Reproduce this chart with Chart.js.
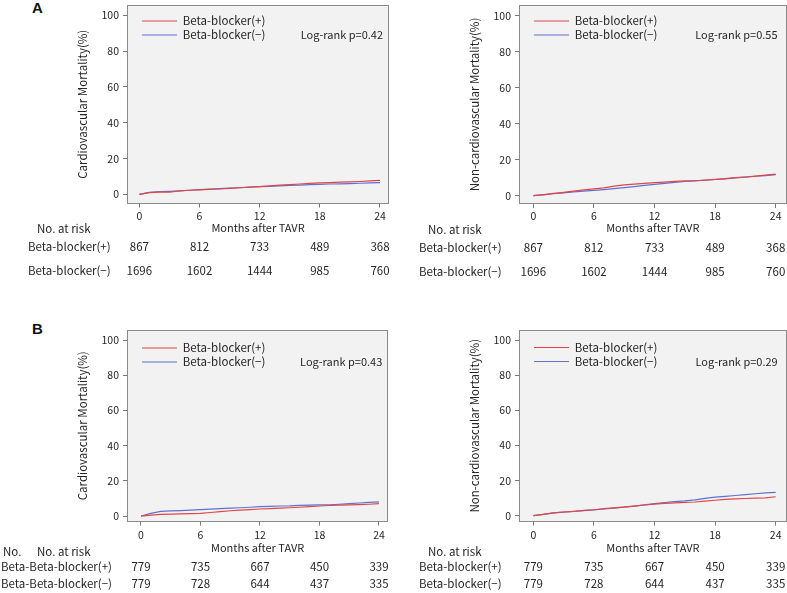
<!DOCTYPE html>
<html>
<head>
<meta charset="utf-8">
<script src="https://cdn.jsdelivr.net/npm/chart.js@4.4.1/dist/chart.umd.min.js"></script>
<style>
  html, body { margin: 0; padding: 0; background: #fff; }
  #fig { position: relative; width: 787px; height: 593px; overflow: hidden; }
  .panel { position: absolute; }
  .tag { position: absolute; font: bold 15px "Liberation Sans", Arial, sans-serif; line-height: 15px; color: #111; }
</style>
</head>
<body>
<div id="fig">
  <div class="tag" style="left:32px;top:0px">A</div>
  <div class="tag" style="left:32px;top:321px">B</div>
  <div class="panel" style="left:0;top:0;width:393px;height:300px"><canvas id="cvA"></canvas></div>
  <div class="panel" style="left:393px;top:0;width:394px;height:300px"><canvas id="ncvA"></canvas></div>
  <div class="panel" style="left:0;top:300px;width:393px;height:293px"><canvas id="cvB"></canvas></div>
  <div class="panel" style="left:393px;top:300px;width:394px;height:293px"><canvas id="ncvB"></canvas></div>
</div>
<script>
// Months after TAVR
const months = [0, 1, 2, 3, 4, 5, 6, 7, 8, 9, 10, 11, 12, 13, 14, 15, 16, 17, 18, 19, 20, 21, 22, 23, 24];
const xTicks = [0, 6, 12, 18, 24];
const yTicks = [0, 20, 40, 60, 80, 100];
const groupLabels = ['Beta-blocker(+)', 'Beta-blocker(\u2212)'];

// A: cardiovascular mortality (%)
const cvA_plus  = [0, 1.0, 1.2, 1.2, 2.0, 2.3, 2.5, 2.8, 3.0, 3.4, 3.7, 4.0, 4.3, 4.7, 5.2, 5.5, 5.8, 6.1, 6.4, 6.6, 6.8, 7.0, 7.2, 7.5, 7.8];
const cvA_minus = [0, 1.1, 1.5, 1.7, 2.0, 2.3, 2.6, 2.9, 3.2, 3.5, 3.7, 4.0, 4.3, 4.5, 4.8, 5.0, 5.2, 5.4, 5.6, 5.8, 5.9, 6.0, 6.2, 6.4, 6.6];
// A: non-cardiovascular mortality (%)
const ncvA_plus  = [0, 0.6, 1.3, 1.9, 2.6, 3.2, 3.8, 4.4, 5.3, 6.0, 6.4, 6.8, 7.3, 7.6, 8.0, 8.2, 8.3, 8.7, 9.1, 9.5, 10.0, 10.4, 10.9, 11.4, 12.0];
const ncvA_minus = [0, 0.5, 1.1, 1.6, 2.1, 2.6, 3.0, 3.4, 3.9, 4.5, 5.1, 5.7, 6.3, 6.9, 7.4, 7.9, 8.2, 8.6, 9.0, 9.4, 9.9, 10.3, 10.8, 11.2, 11.7];
// B: cardiovascular mortality (%)
const cvB_plus  = [0, 0.5, 0.9, 1.1, 1.2, 1.4, 1.5, 2.0, 2.5, 3.0, 3.4, 3.7, 4.0, 4.2, 4.5, 4.7, 5.0, 5.3, 5.7, 6.0, 6.2, 6.4, 6.5, 6.7, 7.0];
const cvB_minus = [0, 1.5, 2.7, 2.9, 3.1, 3.4, 3.6, 3.9, 4.2, 4.5, 4.7, 5.0, 5.3, 5.5, 5.7, 5.8, 6.1, 6.2, 6.3, 6.4, 6.7, 7.0, 7.4, 7.8, 8.1];
// B: non-cardiovascular mortality (%)
const ncvB_plus  = [0, 0.8, 1.6, 2.1, 2.5, 3.0, 3.4, 4.0, 4.5, 5.0, 5.5, 6.1, 6.6, 7.0, 7.3, 7.6, 7.8, 8.3, 8.8, 9.3, 9.6, 9.8, 10.0, 10.2, 10.8];
const ncvB_minus = [0, 0.8, 1.6, 2.0, 2.4, 2.9, 3.3, 3.8, 4.3, 4.8, 5.5, 6.2, 6.9, 7.5, 8.0, 8.4, 9.0, 9.9, 10.6, 11.0, 11.5, 12.0, 12.5, 13.0, 13.3];

// Number at risk at 0, 6, 12, 18, 24 months
const riskA_plus  = [867, 812, 733, 489, 368];
const riskA_minus = [1696, 1602, 1444, 985, 760];
const riskB_plus  = [779, 735, 667, 450, 339];
const riskB_minus = [779, 728, 644, 437, 335];

const pValues = ['0.42', '0.55', '0.43', '0.29'];

const RED = 'rgb(226,70,70)';
const BLUE = 'rgb(92,114,212)';
const TEXT = '#262626';
const FAMILY = '"Noto Sans CJK JP", "Noto Sans", sans-serif';

// Grey plot box with a frame on all four sides
const framePlugin = {
  id: 'frame',
  beforeDraw(chart) {
    const { ctx, chartArea: a } = chart;
    ctx.save();
    ctx.fillStyle = '#f2f2f2';
    ctx.fillRect(a.left, a.top, a.width, a.height);
    ctx.restore();
  },
  afterDraw(chart) {
    const { ctx, chartArea: a } = chart;
    ctx.save();
    ctx.strokeStyle = '#8a8a8a';
    ctx.lineWidth = 1;
    ctx.strokeRect(Math.round(a.left) + 0.5, Math.round(a.top) + 0.5, Math.round(a.width) - 1, Math.round(a.height) - 1);
    ctx.restore();
  }
};

// Put the legend inside the box, top-left
const legendPlacePlugin = {
  id: 'legendPlace',
  afterLayout(chart, args, opts) {
    const a = chart.chartArea;
    const lg = chart.legend;
    const pad = chart.options.plugins.legend.labels.padding;
    lg.left = a.left + opts.dx - pad;
    lg.top = a.top + opts.dy - pad;
    lg.right = a.right;
    lg.bottom = a.bottom;
  }
};

// Log-rank text and number-at-risk table under the axis
const riskTablePlugin = {
  id: 'riskTable',
  afterDraw(chart, args, opts) {
    const { ctx, chartArea: a, scales: { x } } = chart;
    ctx.save();
    ctx.fillStyle = TEXT;
    ctx.textBaseline = 'middle';

    ctx.font = opts.pFont;
    ctx.textAlign = 'right';
    ctx.fillText('Log-rank p=' + opts.p, a.right - opts.pRight, a.top + opts.pDy);

    ctx.font = opts.font;
    ctx.textAlign = 'left';
    opts.heads.forEach(h => ctx.fillText(h.text, h.x, a.bottom + opts.headDy));
    opts.rows.forEach((row, r) => {
      const y = a.bottom + opts.rowDy[r];
      ctx.textAlign = 'left';
      ctx.fillText(row.label, opts.labelX, y);
      ctx.textAlign = 'center';
      row.values.forEach((v, i) => ctx.fillText(String(v), x.getPixelForValue(xTicks[i]), y));
    });
    ctx.restore();
  }
};

function makePanel(id, g, plus, minus, yTitle, p, risk) {
  const W = g.W, H = g.H;
  const titleSize = 11.5, titleLH = titleSize * 1.2;
  const xAxisH = g.titleDy + titleLH / 2;
  const tickFont = { family: FAMILY, size: 10.5 };
  const grid = { drawOnChartArea: false, drawTicks: true, tickLength: 4, color: '#777', lineWidth: 1 };

  return new Chart(document.getElementById(id), {
    type: 'line',
    data: {
      datasets: [
        { label: groupLabels[0], data: months.map((m, i) => ({ x: m, y: plus[i] })), borderColor: RED, backgroundColor: RED },
        { label: groupLabels[1], data: months.map((m, i) => ({ x: m, y: minus[i] })), borderColor: BLUE, backgroundColor: BLUE }
      ]
    },
    options: {
      responsive: true,
      maintainAspectRatio: false,
      animation: false,
      layout: { padding: { left: 0, top: g.top, right: W - g.right, bottom: H - g.bottom - xAxisH } },
      elements: { point: { radius: 0 }, line: { borderWidth: 1.2, tension: 0 } },
      scales: {
        x: {
          type: 'linear', min: g.xMin, max: g.xMax,
          afterBuildTicks: s => { s.ticks = xTicks.map(v => ({ value: v })); },
          afterFit: s => { s.height = xAxisH; s.paddingLeft = 0; s.paddingRight = 0; },
          grid, border: { display: false },
          ticks: { color: TEXT, font: tickFont, padding: g.xTickPad, maxRotation: 0, autoSkip: false },
          title: { display: true, text: 'Months after TAVR', color: TEXT, font: { family: FAMILY, size: 11 }, padding: 0 }
        },
        y: {
          type: 'linear', min: g.yMin, max: g.yMax,
          afterBuildTicks: s => { s.ticks = yTicks.map(v => ({ value: v })); },
          afterFit: s => { s.width = g.left; s.paddingTop = 0; s.paddingBottom = 0; },
          grid, border: { display: false },
          ticks: { color: TEXT, font: tickFont, padding: 4 },
          title: { display: true, text: yTitle, color: TEXT, font: { family: FAMILY, size: titleSize }, padding: { top: g.left - 44 - titleLH / 2, bottom: 0 } }
        }
      },
      plugins: {
        tooltip: { enabled: false },
        legend: {
          position: 'chartArea', align: 'start',
          labels: { usePointStyle: true, pointStyle: 'line', pointStyleWidth: 35, padding: 2.5, color: TEXT, font: { family: FAMILY, size: 11.5 } }
        },
        legendPlace: { dx: 15, dy: g.legendDy - 11.5 / 2 },
        riskTable: {
          font: '11.5px ' + FAMILY,
          pFont: '11px ' + FAMILY,
          p, pRight: g.pRight, pDy: g.legendDy + 14,
          heads: g.heads, headDy: g.headDy, rowDy: g.rowDy, labelX: g.labelX,
          rows: [
            { label: g.rowPrefix + groupLabels[0], values: risk[0] },
            { label: g.rowPrefix + groupLabels[1], values: risk[1] }
          ]
        }
      }
    },
    plugins: [framePlugin, legendPlacePlugin, riskTablePlugin]
  });
}

makePanel('cvA',
  { W: 393, H: 300, left: 127, top: 5, right: 389, bottom: 203.5, titleDy: 24.5, xTickPad: 2,
    xMin: -1.23, xMax: 24.9, yMin: -5.1, yMax: 105.8, legendDy: 16, pRight: 6,
    heads: [{ text: 'No. at risk', x: 37 }], headDy: 25.5, rowDy: [43.5, 67.5], labelX: 28, rowPrefix: '' },
  cvA_plus, cvA_minus, 'Cardiovascular Mortality(%)', pValues[0], [riskA_plus, riskA_minus]);

makePanel('ncvA',
  { W: 394, H: 300, left: 126, top: 5, right: 393.5, bottom: 204, titleDy: 24, xTickPad: 2,
    xMin: -1.42, xMax: 25.07, yMin: -4.6, yMax: 105.9, legendDy: 16, pRight: 9,
    heads: [{ text: 'No. at risk', x: 35 }], headDy: 25.5, rowDy: [43.5, 67.5], labelX: 26, rowPrefix: '' },
  ncvA_plus, ncvA_minus, 'Non-cardiovascular Mortality(%)', pValues[1], [riskA_plus, riskA_minus]);

makePanel('cvB',
  { W: 393, H: 293, left: 127, top: 30, right: 388.3, bottom: 221.5, titleDy: 26.5, xTickPad: 3.5,
    xMin: -1.41, xMax: 24.94, yMin: -3.1, yMax: 105.7, legendDy: 18, pRight: 6,
    heads: [{ text: 'No.', x: 3 }, { text: 'No. at risk', x: 37 }], headDy: 30, rowDy: [45.2, 61.8], labelX: 1, rowPrefix: 'Beta-' },
  cvB_plus, cvB_minus, 'Cardiovascular Mortality(%)', pValues[2], [riskB_plus, riskB_minus]);

makePanel('ncvB',
  { W: 394, H: 293, left: 126, top: 30, right: 393.7, bottom: 221.5, titleDy: 26.5, xTickPad: 3.5,
    xMin: -1.42, xMax: 25.09, yMin: -3.3, yMax: 105.7, legendDy: 17.5, pRight: 9,
    heads: [{ text: 'No. at risk', x: 35 }], headDy: 30, rowDy: [45.2, 61.8], labelX: 26, rowPrefix: '' },
  ncvB_plus, ncvB_minus, 'Non-cardiovascular Mortality(%)', pValues[3], [riskB_plus, riskB_minus]);
</script>
</body>
</html>
